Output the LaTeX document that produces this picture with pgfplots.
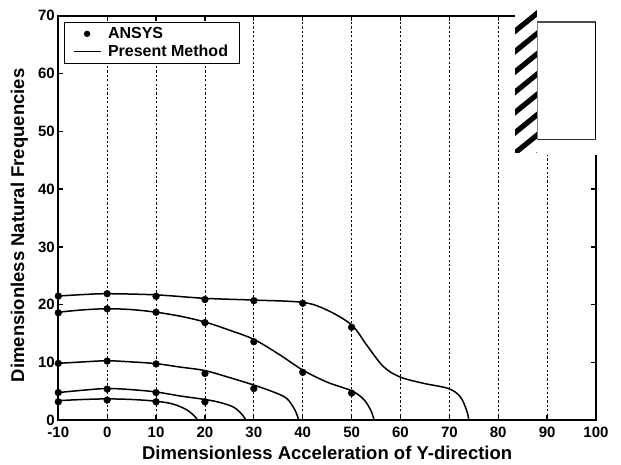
\documentclass[border=0pt]{standalone}
\usepackage{fontspec}
\setmainfont{Liberation Sans}
\usepackage{pgfplots}
\pgfplotsset{compat=1.18}
\begin{document}
\begin{tikzpicture}[x=1pt,y=1pt]
\useasboundingbox (-58.3pt,-44.7pt) rectangle (562.7pt,420.3pt);
\begin{axis}[
  at={(0pt,0pt)}, anchor=south west,
  scale only axis, width=537.7pt, height=404.6pt,
  xmin=-10, xmax=100, ymin=0, ymax=70,
  xtick={-10,0,...,100}, ytick={0,10,...,70},
  xmajorgrids, grid style={black, line width=0.8pt, dash pattern=on 2.2pt off 2.2pt},
  axis line style={line width=1.8pt},
  tick style={black, line width=1.3pt},
  major tick length=5pt, tick align=inside,
  /pgf/number format/assume math mode=true,
  tick label style={font=\fontsize{15}{16}\selectfont\bfseries},
  xticklabel style={yshift=-3.5pt},
  yticklabel style={xshift=0pt},
  label style={font=\fontsize{18.5}{19}\selectfont\bfseries},
  xlabel={Dimensionless Acceleration of Y-direction},
  ylabel={Dimensionless Natural Frequencies},
  xlabel style={at={(axis description cs:0.5,0)},anchor=center,yshift=-33pt},
  ylabel style={at={(axis description cs:0,0.482)},anchor=center,yshift=39pt},
  legend style={at={(axis cs:-8.9,68.9)},anchor=north west,
    draw=black, line width=0.9pt, fill=white, inner xsep=9pt, inner ysep=3pt,
    font=\fontsize{16}{17}\selectfont\bfseries, row sep=1pt},
  legend cell align=left,
]
\addlegendimage{legend image code/.code={\path[draw=none,fill=black] (13.5pt,0pt) circle (3.2pt); \path[draw=none,fill=none] (0pt,0pt) -- (27pt,0pt);}}
\addlegendentry{\hspace{5pt}ANSYS}
\addlegendimage{legend image code/.code={\draw[black,line width=0.9pt] (0pt,0pt) -- (27pt,0pt);}}
\addlegendentry{\hspace{5pt}Present Method}
\addplot[forget plot, only marks, mark=*, mark size=3.4pt, black] coordinates {
 (-10,3.2)(0,3.5)(10,3.2)
 (-10,4.8)(0,5.4)(10,4.8)(20,3.2)
 (-10,9.85)(0,10.25)(10,9.75)(20,8.1)(30,5.5)
 (-10,18.6)(0,19.3)(10,18.7)(20,16.9)(30,13.6)(40,8.3)(50,4.7)
 (-10,21.5)(0,21.9)(10,21.45)(20,20.9)(30,20.7)(40,20.25)(50,16.1)};
\addplot[forget plot, black, line width=1.5pt, smooth, tension=0.55] coordinates {
 (-10,3.4)(-5,3.6)(0,3.7)(5,3.6)(10,3.3)(13.5,2.8)(16.3,1.8)(18,0.6)(18.5,0)};
\addplot[forget plot, black, line width=1.5pt, smooth, tension=0.55] coordinates {
 (-10,4.8)(-5,5.2)(0,5.5)(5,5.3)(10,4.9)(15,4.2)(20,3.6)(23,3.1)(25.8,2.3)(27.5,1.1)(28.4,0)};
\addplot[forget plot, black, line width=1.5pt, smooth, tension=0.55] coordinates {
 (-10,9.85)(-5,10.1)(0,10.3)(5,10.1)(10,9.8)(15,9.2)(20,8.6)(25,7.4)(30,6.1)(34,4.9)(36.7,3.8)(38.4,1.8)(39.2,0)};
\addplot[forget plot, black, line width=1.5pt, smooth, tension=0.55] coordinates {
 (-10,18.7)(-5,19.1)(0,19.3)(5,19.15)(10,18.7)(15,18)(20,17)(25,15.6)(30,14)(35,11.5)(40,8.7)(45,6.6)(50,5.1)(52.5,3.6)(54,1.6)(54.6,0)};
\addplot[forget plot, black, line width=1.5pt, smooth, tension=0.55] coordinates {
 (-10,21.5)(-5,21.75)(0,21.9)(10,21.7)(20,21.1)(30,20.8)(40,20.4)(44.9,19.1)(50,16.5)(53.1,13)(56.5,9.3)(59.9,7.5)(64.7,6.4)(69.8,5.5)(72.2,4.1)(73.5,1.8)(74,0)};
\end{axis}
\begin{scope}[shift={(-58.3pt,420.3pt)},x=1pt,y=-1pt]
 \fill[white] (515,0) rectangle (610,155);
 \begin{scope}
  \clip (515,10) rectangle (536.8,153);
  \foreach \y in {13.3,33.6,53.9,74.2,94.5,114.8,135.1,155.4}
    \draw[black, line width=5.2pt] (510,\y+22) -- (542,\y-4);
 \end{scope}
 \draw[black!50, line width=0.7pt] (537,22) -- (537,139);
 \draw[black!70, line width=1.3pt] (537,22) -- (595.5,22);
 \draw[black, line width=1.6pt] (595.5,22) -- (595.5,139.5);
 \draw[black!80, line width=1.4pt] (537,139.5) -- (595.5,139.5);
\end{scope}
\end{tikzpicture}
\end{document}
